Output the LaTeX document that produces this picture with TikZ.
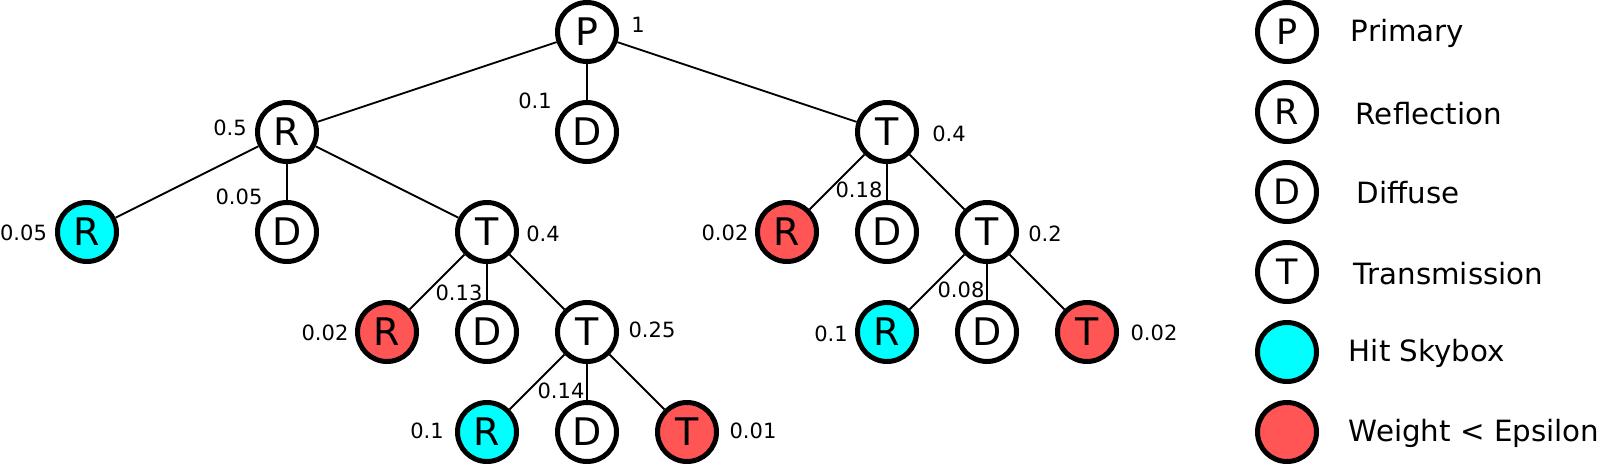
\documentclass[tikz,border=0pt]{standalone}
\usepackage{fontspec}
\setmainfont{DejaVu Sans}
\usepackage{xcolor}
\usepackage{tikz}
\definecolor{skyhit}{RGB}{0,255,255}
\definecolor{lowwt}{RGB}{255,85,85}

\begin{document}
\begin{tikzpicture}[x=100pt, y=-100pt, line width=1.8pt,
  ray/.style={circle, draw, line width=5pt, minimum size=59pt, inner sep=0pt, font=\fontsize{38}{38}\selectfont},
  sky/.style={ray, fill=skyhit},
  cut/.style={ray, fill=lowwt},
  wt/.style={inner sep=0pt, font=\fontsize{21}{21}\selectfont},
  keytext/.style={inner sep=0pt, anchor=base west, font=\fontsize{29.3}{29.3}\selectfont}]
  \useasboundingbox (0,0) rectangle (16.01,4.65);
  % tree
  \node[ray] (p) at (5.87,0.32) {P};
  \node[ray] (r1) at (2.87,1.32) {R};
  \node[ray] (d1) at (5.87,1.32) {D};
  \node[ray] (t1) at (8.87,1.32) {T};
  \node[sky] (r2a) at (0.87,2.32) {R};
  \node[ray] (d2a) at (2.87,2.32) {D};
  \node[ray] (t2a) at (4.87,2.32) {T};
  \node[cut] (r2b) at (7.87,2.32) {R};
  \node[ray] (d2b) at (8.87,2.32) {D};
  \node[ray] (t2b) at (9.87,2.32) {T};
  \node[cut] (r3a) at (3.87,3.32) {R};
  \node[ray] (d3a) at (4.87,3.32) {D};
  \node[ray] (t3a) at (5.87,3.32) {T};
  \node[sky] (r3b) at (8.87,3.32) {R};
  \node[ray] (d3b) at (9.87,3.32) {D};
  \node[cut] (t3b) at (10.87,3.32) {T};
  \node[sky] (r4) at (4.87,4.32) {R};
  \node[ray] (d4) at (5.87,4.32) {D};
  \node[cut] (t4) at (6.87,4.32) {T};
  \draw (p) -- (r1);
  \draw (p) -- (d1);
  \draw (p) -- (t1);
  \draw (r1) -- (r2a);
  \draw (r1) -- (d2a);
  \draw (r1) -- (t2a);
  \draw (t1) -- (r2b);
  \draw (t1) -- (d2b);
  \draw (t1) -- (t2b);
  \draw (t2a) -- (r3a);
  \draw (t2a) -- (d3a);
  \draw (t2a) -- (t3a);
  \draw (t2b) -- (r3b);
  \draw (t2b) -- (d3b);
  \draw (t2b) -- (t3b);
  \draw (t3a) -- (r4);
  \draw (t3a) -- (d4);
  \draw (t3a) -- (t4);
  % weights
  \node[wt] (w-p) at (6.38,0.25) {1};
  \node[wt] (w-d1) at (5.35,1.01) {0.1};
  \node[wt] (w-r1) at (2.30,1.28) {0.5};
  \node[wt] (w-t1) at (9.49,1.34) {0.4};
  \node[wt] (w-r2a) at (0.235,2.33) {0.05};
  \node[wt] (w-d2a) at (2.39,1.97) {0.05};
  \node[wt] (w-t2a) at (5.43,2.34) {0.4};
  \node[wt] (w-r2b) at (7.25,2.33) {0.02};
  \node[wt] (w-d2b) at (8.59,1.90) {0.18};
  \node[wt] (w-t2b) at (10.45,2.34) {0.2};
  \node[wt] (w-r3a) at (3.25,3.33) {0.02};
  \node[wt] (w-d3a) at (4.59,2.93) {0.13};
  \node[wt] (w-t3a) at (6.52,3.30) {0.25};
  \node[wt] (w-r3b) at (8.31,3.34) {0.1};
  \node[wt] (w-d3b) at (9.61,2.90) {0.08};
  \node[wt] (w-t3b) at (11.54,3.33) {0.02};
  \node[wt] (w-r4) at (4.27,4.31) {0.1};
  \node[wt] (w-d4) at (5.61,3.91) {0.14};
  \node[wt] (w-t4) at (7.53,4.31) {0.01};
  % legend
  \foreach \i/\y/\tx/\by/\ch/\st/\txt in {0/0.32/13.50/0.417/P/ray/Primary,
      1/1.12/13.55/1.24/R/ray/Reflection, 2/1.92/13.56/2.04/D/ray/Diffuse,
      3/2.72/13.53/2.84/T/ray/Transmission, 4/3.52/13.48/3.61/{}/sky/Hit Skybox,
      5/4.32/13.48/4.41/{}/cut/Weight < Epsilon}{
    \node[\st, font=\fontsize{35}{35}\selectfont] (key\i) at (12.87,\y) {\ch};
    \node[keytext] (keytxt\i) at (\tx,\by) {\txt};
  }
\end{tikzpicture}
\end{document}
